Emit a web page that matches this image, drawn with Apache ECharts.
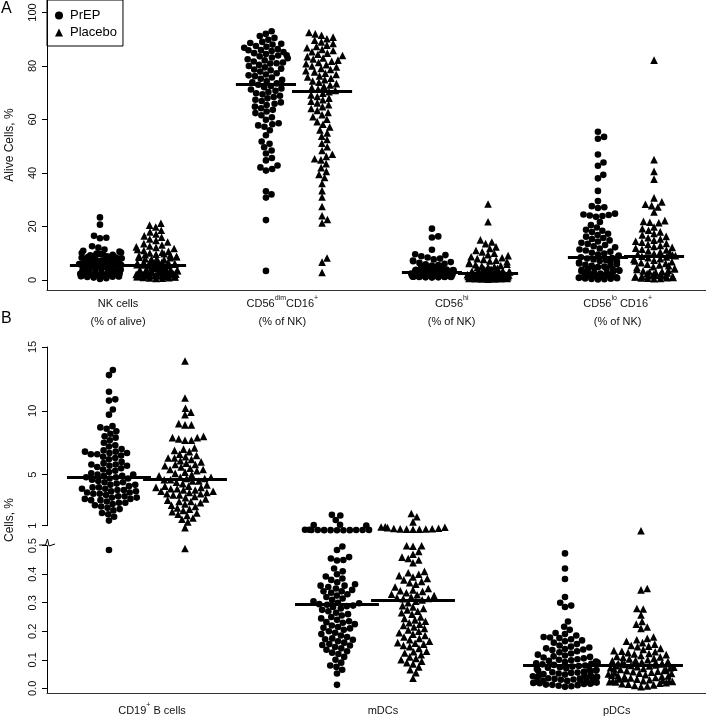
<!DOCTYPE html>
<html><head><meta charset="utf-8">
<script src="https://cdn.jsdelivr.net/npm/echarts@6/dist/echarts.min.js"></script>
<style>html,body{margin:0;padding:0;background:#fff}#c{width:706px;height:720px}</style>
</head><body><div id="c"></div>
<script>
// ---------------- DATA ----------------
const armNames = ['PrEP', 'Placebo'];
const panelACategories = ['NK cells\n(% of alive)', 'CD56{s|dim}CD16{s|+}\n(% of NK)', 'CD56{s|hi}\n(% of NK)', 'CD56{s|lo} CD16{s|+}\n(% of NK)'];
const panelBCategories = ['CD19{s|+} B cells', 'mDCs', 'pDCs'];
const panelATicks = [0, 20, 40, 60, 80, 100];
const panelBUpperTicks = [1, 5, 10, 15];
const panelBLowerTicks = [0, 0.1, 0.2, 0.3, 0.4, 0.5];

const nkPrEP = [23.4, 20.7, 16.5, 15.8, 15.6, 12.6, 12.1, 11.4, 10.9, 10.6, 10.3, 10.1, 9.9, 9.7, 9.7, 9.5, 9.4, 9.2, 9.0, 8.9, 8.7, 8.6, 8.5, 8.3, 8.1, 8.0, 7.9, 7.8, 7.6, 7.5, 7.4, 7.3, 7.2, 7.1, 7.0, 6.9, 6.8, 6.7, 6.6, 6.5, 6.4, 6.3, 6.2, 6.1, 6.0, 5.95, 5.9, 5.8, 5.8, 5.6, 5.5, 5.5, 5.3, 5.2, 5.1, 5.0, 4.9, 4.8, 4.6, 4.5, 4.4, 4.4, 4.2, 4.1, 4.0, 3.9, 3.8, 3.7, 3.6, 3.4, 3.3, 3.2, 3.0, 2.9, 2.8, 2.7, 2.7, 2.4, 2.3, 2.2, 2.0, 1.9, 1.9, 1.8, 1.7, 1.7, 1.6, 1.6, 1.5, 1.5, 1.4, 1.4, 1.3, 1.2, 1.1, 0.9, 0.7, 0.4];
const nkPlacebo = [21.2, 20.5, 19.8, 18.6, 18.0, 17.2, 16.5, 16.0, 15.3, 14.8, 14.2, 13.6, 13.1, 12.7, 12.4, 12.2, 11.8, 11.4, 11.0, 10.7, 10.4, 10.1, 9.8, 9.6, 9.5, 9.3, 9.0, 8.8, 8.7, 8.5, 8.3, 8.0, 7.8, 7.6, 7.4, 7.3, 7.1, 6.9, 6.7, 6.6, 6.5, 6.3, 6.1, 5.9, 5.7, 5.6, 5.5, 5.4, 5.2, 5.0, 4.9, 4.7, 4.6, 4.4, 4.3, 4.1, 4.0, 3.8, 3.7, 3.6, 3.5, 3.4, 3.3, 3.1, 3.0, 2.9, 2.8, 2.7, 2.6, 2.5, 2.5, 2.4, 2.3, 2.2, 2.1, 2.0, 1.9, 1.9, 1.8, 1.8, 1.7, 1.6, 1.5, 1.5, 1.4, 1.3, 1.2, 1.2, 1.1, 1.0, 0.9, 0.8, 0.7, 0.6];
const cd56dimPrEP = [93.0, 92.0, 91.2, 90.5, 89.8, 89.0, 88.6, 88.3, 88.0, 87.5, 87.2, 86.8, 86.3, 86.0, 85.9, 85.6, 85.2, 84.8, 84.5, 84.0, 83.9, 83.6, 83.2, 82.9, 82.5, 82.1, 81.7, 81.3, 81.0, 80.9, 80.4, 80.0, 79.5, 79.0, 78.7, 78.4, 77.9, 77.3, 76.8, 76.5, 76.2, 75.7, 75.2, 74.8, 74.3, 73.9, 73.5, 73.0, 72.5, 72.1, 71.6, 71.2, 70.7, 70.3, 69.8, 69.4, 68.9, 68.4, 67.9, 67.4, 66.9, 66.4, 65.9, 65.4, 64.8, 64.2, 63.6, 63.0, 62.4, 61.6, 60.8, 59.9, 58.6, 58.2, 57.8, 57.3, 56.0, 54.1, 51.8, 50.9, 49.6, 48.4, 47.3, 45.6, 44.7, 42.8, 42.1, 41.5, 40.9, 33.2, 32.0, 30.8, 22.4, 3.4];
const cd56dimPlacebo = [92.5, 92.0, 91.5, 90.8, 90.2, 89.6, 89.0, 88.4, 87.8, 87.3, 86.8, 86.2, 85.8, 85.3, 84.8, 84.4, 83.9, 83.5, 83.0, 82.6, 82.2, 81.8, 81.3, 80.9, 80.5, 80.0, 79.6, 79.1, 78.7, 78.2, 77.8, 77.3, 76.8, 76.3, 75.9, 75.4, 74.9, 74.4, 73.9, 73.4, 72.9, 72.4, 71.9, 71.4, 70.9, 70.4, 69.8, 69.2, 68.6, 68.0, 67.4, 66.8, 66.2, 65.5, 64.8, 64.1, 63.4, 62.6, 61.8, 61.0, 60.1, 59.2, 58.2, 57.2, 56.1, 55.0, 53.8, 52.5, 51.1, 49.8, 48.4, 47.0, 46.2, 45.3, 44.9, 43.5, 42.0, 40.6, 39.5, 38.3, 36.1, 33.4, 31.0, 27.5, 24.0, 22.6, 21.3, 8.2, 6.7, 2.8];
const cd56hiPrEP = [19.2, 16.3, 15.9, 11.3, 9.6, 9.3, 8.9, 8.4, 8.0, 7.7, 7.3, 7.0, 6.7, 6.4, 6.1, 5.9, 5.6, 5.4, 5.2, 5.0, 4.8, 4.7, 4.5, 4.3, 4.2, 4.0, 3.9, 3.8, 3.7, 3.6, 3.5, 3.4, 3.4, 3.3, 3.2, 3.1, 3.1, 3.0, 3.0, 2.9, 2.8, 2.8, 2.7, 2.6, 2.6, 2.5, 2.5, 2.4, 2.3, 2.3, 2.2, 2.2, 2.1, 2.1, 2.0, 2.0, 1.9, 1.9, 1.8, 1.8, 1.7, 1.7, 1.7, 1.6, 1.6, 1.5, 1.5, 1.5, 1.4, 1.4, 1.4, 1.3, 1.3, 1.3, 1.2, 1.2, 1.1, 1.1, 1.1, 1.0, 1.0, 0.9];
const cd56hiPlacebo = [28.4, 21.8, 15.0, 14.2, 13.6, 12.4, 11.8, 11.0, 10.5, 10.0, 9.5, 9.1, 8.7, 8.3, 8.0, 7.7, 7.4, 7.1, 6.8, 6.5, 6.2, 5.9, 5.7, 5.4, 5.2, 5.0, 4.8, 4.6, 4.4, 4.2, 4.0, 3.9, 3.7, 3.6, 3.5, 3.3, 3.2, 3.1, 3.0, 2.9, 2.8, 2.7, 2.6, 2.6, 2.5, 2.4, 2.3, 2.3, 2.2, 2.1, 2.1, 2.0, 1.9, 1.9, 1.8, 1.8, 1.7, 1.7, 1.6, 1.6, 1.5, 1.5, 1.4, 1.4, 1.3, 1.3, 1.2, 1.2, 1.1, 1.1, 1.0, 1.0, 1.0, 0.9, 0.9, 0.8, 0.8, 0.7, 0.7, 0.6, 0.6, 0.5, 0.5, 0.4, 0.4, 0.3];
const cd56loPrEP = [55.4, 53.5, 52.8, 46.9, 43.9, 42.7, 39.3, 38.0, 33.3, 29.5, 27.6, 27.2, 26.9, 24.8, 24.5, 24.3, 24.1, 23.9, 23.6, 21.7, 20.5, 19.6, 18.8, 18.4, 17.9, 17.3, 16.8, 16.2, 15.7, 15.3, 14.8, 14.4, 13.9, 13.5, 13.1, 12.6, 12.2, 11.8, 11.4, 11.0, 10.6, 10.2, 9.9, 9.5, 9.1, 8.8, 8.5, 8.2, 8.0, 7.7, 7.4, 7.1, 6.9, 6.8, 6.5, 6.2, 5.9, 5.7, 5.6, 5.3, 5.0, 4.8, 4.5, 4.3, 4.2, 4.0, 3.8, 3.6, 3.5, 3.3, 3.1, 2.9, 2.7, 2.5, 2.4, 2.3, 2.1, 1.9, 1.8, 1.6, 1.5, 1.4, 1.3, 1.2, 1.1, 1.0, 0.9, 0.8, 0.7, 0.6, 0.5, 0.4, 0.3, 0.2];
const cd56loPlacebo = [82.2, 45.0, 40.6, 37.7, 30.7, 29.2, 28.3, 27.8, 27.3, 25.4, 22.2, 21.9, 21.6, 21.4, 19.8, 19.2, 18.6, 18.0, 17.4, 16.8, 16.3, 15.8, 15.3, 14.9, 14.5, 14.1, 13.7, 13.3, 12.9, 12.5, 12.2, 11.9, 11.5, 11.2, 10.9, 10.5, 10.2, 9.9, 9.6, 9.3, 9.1, 8.9, 8.6, 8.3, 8.0, 7.7, 7.4, 7.1, 6.8, 6.5, 6.2, 5.9, 5.6, 5.3, 5.0, 4.7, 4.4, 4.1, 3.9, 3.6, 3.4, 3.2, 3.0, 2.8, 2.6, 2.4, 2.2, 2.0, 1.9, 1.7, 1.6, 1.5, 1.4, 1.3, 1.2, 1.1, 1.0, 0.9, 0.8, 0.7, 0.6, 0.5];

const cd19PrEP = [13.2, 12.8, 11.5, 10.9, 10.8, 10.1, 9.7, 8.8, 8.7, 8.6, 8.4, 8.2, 8.0, 7.9, 7.7, 7.5, 7.3, 7.2, 7.0, 6.9, 6.8, 6.8, 6.7, 6.7, 6.6, 6.6, 6.5, 6.4, 6.3, 6.2, 6.0, 5.9, 5.8, 5.8, 5.7, 5.7, 5.6, 5.5, 5.4, 5.3, 5.2, 5.1, 5.0, 5.0, 4.9, 4.9, 4.8, 4.8, 4.7, 4.7, 4.6, 4.5, 4.4, 4.4, 4.3, 4.2, 4.2, 4.1, 4.0, 4.0, 3.9, 3.9, 3.8, 3.8, 3.7, 3.7, 3.6, 3.6, 3.5, 3.5, 3.4, 3.3, 3.3, 3.2, 3.2, 3.1, 3.1, 3.0, 3.0, 2.9, 2.8, 2.8, 2.7, 2.6, 2.5, 2.4, 2.3, 2.2, 2.0, 1.9, 1.7, 1.4, 0.485];
const cd19Placebo = [13.9, 11.0, 10.2, 9.9, 9.7, 9.0, 8.9, 8.9, 8.0, 7.9, 7.9, 7.8, 7.7, 7.7, 7.1, 7.0, 6.9, 6.8, 6.6, 6.5, 6.4, 6.3, 6.3, 6.2, 6.1, 6.0, 5.9, 5.8, 5.8, 5.7, 5.6, 5.5, 5.4, 5.4, 5.3, 5.2, 5.1, 5.0, 4.9, 4.8, 4.8, 4.7, 4.7, 4.6, 4.6, 4.5, 4.5, 4.4, 4.3, 4.2, 4.1, 4.1, 4.0, 4.0, 3.9, 3.9, 3.8, 3.8, 3.7, 3.7, 3.6, 3.6, 3.5, 3.5, 3.4, 3.4, 3.3, 3.2, 3.1, 3.0, 2.9, 2.9, 2.8, 2.7, 2.6, 2.5, 2.4, 2.3, 2.2, 2.1, 2.0, 1.9, 1.8, 1.6, 1.5, 1.3, 0.85, 0.49];
const mdcPrEP = [1.85, 1.8, 1.45, 1.08, 1.05, 1.02, 0.68, 0.68, 0.67, 0.67, 0.66, 0.66, 0.66, 0.65, 0.65, 0.65, 0.64, 0.64, 0.497, 0.485, 0.46, 0.455, 0.45, 0.448, 0.42, 0.41, 0.40, 0.392, 0.385, 0.38, 0.372, 0.365, 0.36, 0.36, 0.355, 0.35, 0.345, 0.34, 0.34, 0.335, 0.33, 0.325, 0.32, 0.315, 0.31, 0.305, 0.30, 0.298, 0.295, 0.293, 0.29, 0.288, 0.285, 0.28, 0.275, 0.27, 0.265, 0.26, 0.255, 0.25, 0.245, 0.24, 0.235, 0.232, 0.23, 0.225, 0.22, 0.215, 0.212, 0.21, 0.205, 0.20, 0.195, 0.19, 0.185, 0.18, 0.175, 0.172, 0.17, 0.165, 0.16, 0.155, 0.152, 0.15, 0.145, 0.14, 0.135, 0.13, 0.125, 0.12, 0.11, 0.10, 0.09, 0.08, 0.075, 0.065, 0.052, 0.012];
const mdcPlacebo = [1.95, 1.7, 1.3, 0.92, 0.9, 0.88, 0.85, 0.8, 0.78, 0.76, 0.75, 0.74, 0.73, 0.72, 0.72, 0.50, 0.50, 0.498, 0.48, 0.47, 0.46, 0.455, 0.45, 0.44, 0.41, 0.405, 0.40, 0.395, 0.39, 0.385, 0.38, 0.375, 0.37, 0.365, 0.355, 0.35, 0.345, 0.342, 0.34, 0.335, 0.33, 0.328, 0.325, 0.32, 0.318, 0.315, 0.314, 0.31, 0.305, 0.30, 0.29, 0.285, 0.28, 0.275, 0.27, 0.265, 0.26, 0.25, 0.245, 0.24, 0.235, 0.23, 0.225, 0.22, 0.215, 0.21, 0.205, 0.20, 0.195, 0.19, 0.185, 0.18, 0.175, 0.17, 0.165, 0.16, 0.158, 0.155, 0.15, 0.146, 0.14, 0.13, 0.128, 0.124, 0.118, 0.11, 0.105, 0.10, 0.095, 0.09, 0.085, 0.075, 0.065, 0.055, 0.035];
const pdcPrEP = [0.473, 0.42, 0.383, 0.32, 0.30, 0.29, 0.285, 0.234, 0.216, 0.205, 0.194, 0.19, 0.185, 0.18, 0.178, 0.176, 0.172, 0.168, 0.165, 0.16, 0.155, 0.15, 0.146, 0.143, 0.14, 0.138, 0.136, 0.134, 0.13, 0.126, 0.122, 0.118, 0.115, 0.112, 0.11, 0.108, 0.105, 0.102, 0.10, 0.098, 0.096, 0.094, 0.092, 0.09, 0.088, 0.086, 0.084, 0.082, 0.08, 0.078, 0.076, 0.074, 0.072, 0.07, 0.068, 0.066, 0.064, 0.062, 0.062, 0.06, 0.058, 0.056, 0.055, 0.054, 0.052, 0.05, 0.048, 0.047, 0.046, 0.044, 0.042, 0.04, 0.039, 0.038, 0.036, 0.035, 0.034, 0.033, 0.031, 0.03, 0.028, 0.027, 0.026, 0.025, 0.023, 0.021, 0.02, 0.019, 0.018, 0.016, 0.015, 0.013, 0.012, 0.011, 0.009, 0.007, 0.005];
const pdcPlacebo = [0.61, 0.35, 0.345, 0.28, 0.278, 0.257, 0.234, 0.225, 0.215, 0.21, 0.18, 0.175, 0.17, 0.165, 0.16, 0.155, 0.15, 0.148, 0.146, 0.14, 0.136, 0.132, 0.13, 0.128, 0.125, 0.122, 0.12, 0.118, 0.115, 0.112, 0.11, 0.108, 0.105, 0.103, 0.10, 0.098, 0.096, 0.094, 0.092, 0.09, 0.089, 0.088, 0.087, 0.086, 0.085, 0.084, 0.082, 0.08, 0.079, 0.078, 0.076, 0.074, 0.072, 0.071, 0.07, 0.068, 0.066, 0.064, 0.063, 0.062, 0.06, 0.058, 0.056, 0.054, 0.053, 0.052, 0.05, 0.048, 0.046, 0.044, 0.043, 0.042, 0.04, 0.038, 0.036, 0.034, 0.033, 0.032, 0.03, 0.028, 0.027, 0.026, 0.025, 0.024, 0.023, 0.022, 0.02, 0.018, 0.016, 0.014, 0.012, 0.01, 0.008, 0.006];

// ---------------- LAYOUT ----------------
const FONT = '"Liberation Sans", Arial, Helvetica, sans-serif';
const panelAGroups = [[nkPrEP, nkPlacebo], [cd56dimPrEP, cd56dimPlacebo], [cd56hiPrEP, cd56hiPlacebo], [cd56loPrEP, cd56loPlacebo]];
const panelBGroups = [[cd19PrEP, cd19Placebo], [mdcPrEP, mdcPlacebo], [pdcPrEP, pdcPlacebo]];
const A = { xMin: 0.512, xMax: 4.482, off: 0.169, half: 0.181, corral: 22, labelPos: [0.94, 1.93, 2.95, 3.95], labelMargin: 5 };
const B = { xMin: 0.5614, xMax: 3.4518, off: 0.1667, half: 0.184, corral: 33, labelPos: [1.022, 2.035, 3.06], labelMargin: 9 };
const DOT = 6.4;

const chart = echarts.init(document.getElementById('c'), null, { renderer: 'canvas' });

function yAxisCfg(grid, min, max, ticks, fmt) {
  return {
    type: 'value', gridIndex: grid, min: min, max: max,
    splitLine: { show: false },
    axisLine: { show: true, lineStyle: { color: '#000', width: 1 } },
    axisTick: { show: true, length: 5, customValues: ticks, lineStyle: { color: '#000' } },
    axisLabel: { customValues: ticks, rotate: 90, margin: 9, fontSize: 11, color: '#111', fontFamily: FONT, formatter: fmt }
  };
}
function xAxisCfg(grid, cfg, cats, show) {
  return {
    type: 'value', gridIndex: grid, min: cfg.xMin, max: cfg.xMax, show: show,
    splitLine: { show: false },
    axisLine: { show: true, onZero: false, lineStyle: { color: '#333', width: 1.2 } },
    axisTick: { show: false },
    axisLabel: {
      customValues: cfg.labelPos, margin: cfg.labelMargin, fontSize: 11, lineHeight: 18, color: '#111', fontFamily: FONT,
      formatter: v => { const i = cfg.labelPos.findIndex(p => Math.abs(p - v) < 1e-6); return i >= 0 ? cats[i] : ''; },
      rich: { s: { fontSize: 7, lineHeight: 10, verticalAlign: 'top', fontFamily: FONT, color: '#111' } }
    }
  };
}

const baseOption = {
  animation: false,
  backgroundColor: '#fff',
  grid: [
    { left: 47, top: 0, width: 659, height: 290 },
    { left: 47, top: 347, width: 659, height: 178.7 },
    { left: 47, top: 545.7, width: 659, height: 147.3 }
  ],
  xAxis: [
    xAxisCfg(0, A, panelACategories, true),
    xAxisCfg(1, B, panelBCategories, false),
    xAxisCfg(2, B, panelBCategories, true)
  ],
  yAxis: [
    yAxisCfg(0, -3.738, 104.67, panelATicks, v => String(v)),
    yAxisCfg(1, 1, 15, panelBUpperTicks, v => String(v)),
    yAxisCfg(2, -0.0165, 0.5, panelBLowerTicks, v => v.toFixed(1))
  ],
  legend: {
    left: 47, top: 0, orient: 'vertical',
    data: [{ name: 'PrEP', icon: 'circle' }, { name: 'Placebo', icon: 'triangle' }],
    itemWidth: 8, itemHeight: 8, itemGap: 4,
    borderColor: '#000', borderWidth: 1, borderRadius: 0,
    padding: [9, 6, 7, 8],
    textStyle: { fontSize: 13, color: '#000', fontFamily: FONT, padding: [0, 0, 0, 2] }
  },
  graphic: [
    { type: 'text', left: 1, top: 1, style: { text: 'A', font: '16px ' + FONT, fill: '#000' } },
    { type: 'text', left: 1, top: 311, style: { text: 'B', font: '16px ' + FONT, fill: '#000' } },
    { type: 'text', x: 10, y: 145, rotation: Math.PI / 2, style: { text: 'Alive Cells, %', font: '12px ' + FONT, fill: '#111', align: 'center', verticalAlign: 'middle' } },
    { type: 'text', x: 10, y: 520, rotation: Math.PI / 2, style: { text: 'Cells, %', font: '12px ' + FONT, fill: '#111', align: 'center', verticalAlign: 'middle' } },
    { type: 'polyline', shape: { points: [[39, 545], [45.5, 545], [47.5, 539], [49, 546], [55, 544]] }, style: { stroke: '#000', lineWidth: 1, fill: null } }
  ],
  series: []
};
chart.setOption(baseOption);

// beeswarm ("swarm" placement, ascending priority) with wrap corral, in pixels
function swarmOffsets(pys, vals, d, W) {
  const order = vals.map((v, i) => i).sort((a, b) => vals[a] - vals[b]);
  const placed = [];
  const xs = new Array(vals.length);
  for (const idx of order) {
    const y = pys[idx];
    const nb = placed.filter(p => Math.abs(p.y - y) < d);
    const cands = [0];
    for (const p of nb) {
      const dx = Math.sqrt(d * d - (p.y - y) * (p.y - y));
      cands.push(p.x + dx, p.x - dx);
    }
    cands.sort((a, b) => Math.abs(a) - Math.abs(b));
    let chosen = 0;
    for (const c of cands) {
      if (nb.every(p => (p.x - c) * (p.x - c) + (p.y - y) * (p.y - y) >= d * d - 1e-6)) { chosen = c; break; }
    }
    placed.push({ x: chosen, y: y });
    xs[idx] = chosen;
  }
  return xs.map(x => (Math.abs(x) > W ? (((x + W) % (2 * W)) + 2 * W) % (2 * W) - W : x));
}
function median(arr) {
  const s = arr.slice().sort((a, b) => a - b);
  const n = s.length;
  return n % 2 ? s[(n - 1) / 2] : (s[n / 2 - 1] + s[n / 2]) / 2;
}

const pts = {};
const medLines = { 0: [], 1: [], 2: [] };
function addArm(vals, cx, gridOf, cfg, arm) {
  const grids = vals.map(gridOf);
  const pys = vals.map((v, i) => chart.convertToPixel({ gridIndex: grids[i] }, [cx, v])[1]);
  const pcx = chart.convertToPixel({ gridIndex: grids[0] }, [cx, vals[0]])[0];
  const offs = swarmOffsets(pys, vals, DOT, cfg.corral);
  vals.forEach((v, i) => {
    const g = grids[i];
    const x = chart.convertFromPixel({ gridIndex: g }, [pcx + offs[i], pys[i]])[0];
    const key = g + '_' + arm;
    (pts[key] = pts[key] || []).push([x, v]);
  });
  const m = median(vals);
  const gm = gridOf(m);
  medLines[gm].push({ coords: [[cx - cfg.half, m], [cx + cfg.half, m]] });
}
panelAGroups.forEach((grp, i) => {
  grp.forEach((vals, j) => addArm(vals, i + 1 + (j ? A.off : -A.off), () => 0, A, j));
});
panelBGroups.forEach((grp, i) => {
  grp.forEach((vals, j) => addArm(vals, i + 1 + (j ? B.off : -B.off), v => (v > 0.5 ? 1 : 2), B, j));
});

const series = [];
Object.keys(pts).forEach(key => {
  const [g, arm] = key.split('_').map(Number);
  series.push({
    type: 'scatter', name: armNames[arm], xAxisIndex: g, yAxisIndex: g,
    symbol: arm ? 'triangle' : 'circle', symbolSize: arm ? 7.6 : 6.6,
    itemStyle: { color: '#000', opacity: 1 }, clip: false, silent: true,
    data: pts[key]
  });
});
[0, 1, 2].forEach(g => {
  if (!medLines[g].length) return;
  series.push({
    type: 'lines', name: 'median', coordinateSystem: 'cartesian2d', xAxisIndex: g, yAxisIndex: g,
    polyline: false, symbol: 'none', z: 5, silent: true,
    lineStyle: { color: '#000', width: 3, opacity: 1 },
    data: medLines[g]
  });
});
chart.setOption({ series: series });
</script>
</body></html>
